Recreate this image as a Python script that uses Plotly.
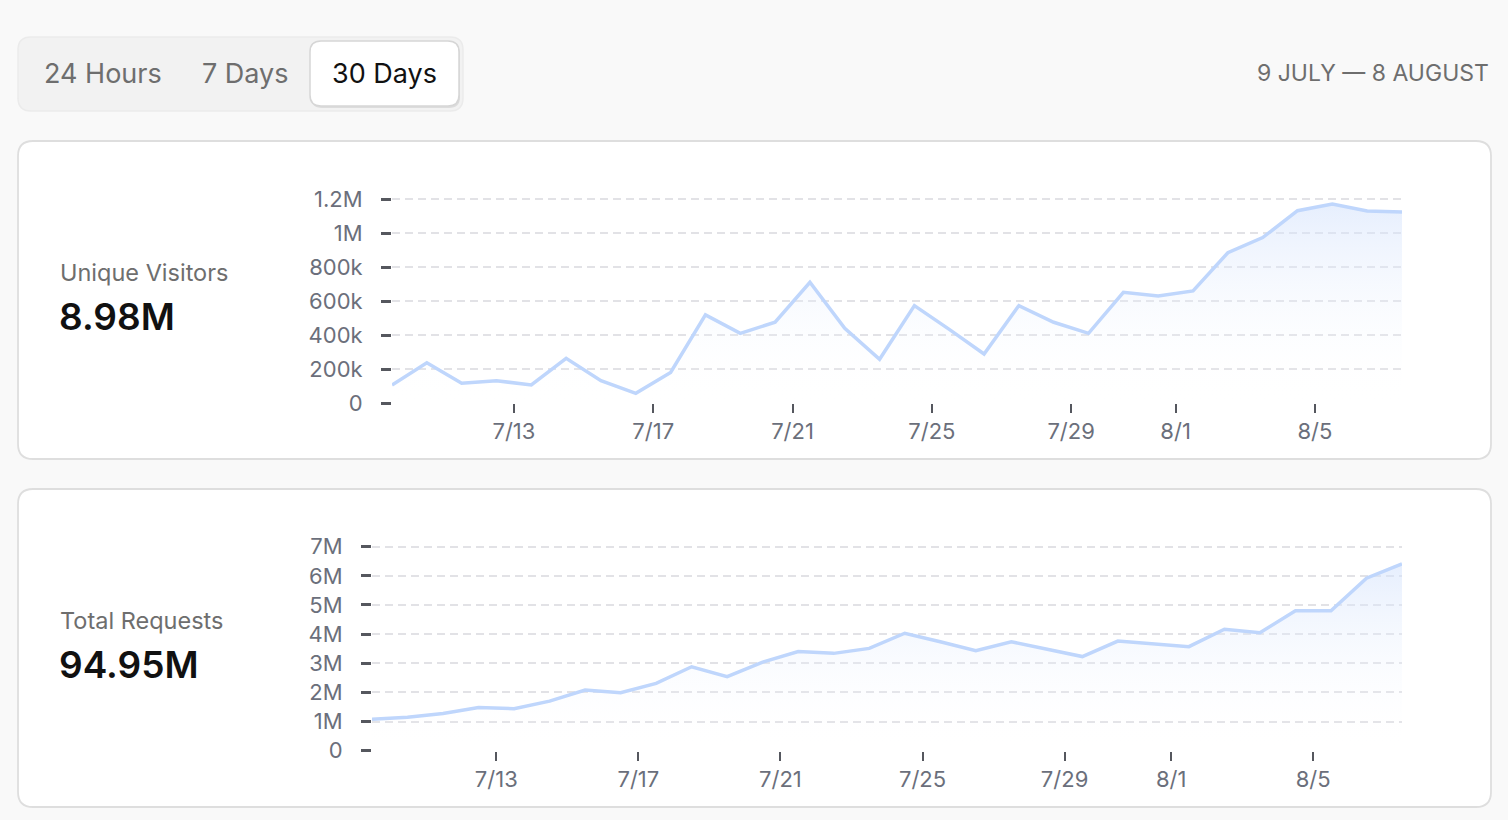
import plotly.graph_objects as go

# dimensões da página (px)
W, H = 1508, 820

# dados: um ponto por dia (carimbo ao meio-dia)
days = ["2024-07-09", "2024-07-10", "2024-07-11", "2024-07-12", "2024-07-13",
        "2024-07-14", "2024-07-15", "2024-07-16", "2024-07-17", "2024-07-18",
        "2024-07-19", "2024-07-20", "2024-07-21", "2024-07-22", "2024-07-23",
        "2024-07-24", "2024-07-25", "2024-07-26", "2024-07-27", "2024-07-28",
        "2024-07-29", "2024-07-30", "2024-07-31", "2024-08-01", "2024-08-02",
        "2024-08-03", "2024-08-04", "2024-08-05", "2024-08-06", "2024-08-07"]

visitors = [106e3, 237e3, 116e3, 131e3, 106e3, 263e3, 131e3, 57e3, 180e3, 518e3,
            410e3, 475e3, 710e3, 439e3, 257e3, 573e3, 433e3, 288e3, 573e3, 475e3,
            410e3, 651e3, 629e3, 659e3, 884e3, 973e3, 1131e3, 1171e3, 1129e3, 1124e3]

requests = [1.08e6, 1.15e6, 1.28e6, 1.48e6, 1.44e6, 1.70e6, 2.08e6, 1.99e6, 2.31e6, 2.88e6,
            2.54e6, 3.04e6, 3.40e6, 3.34e6, 3.51e6, 4.03e6, 3.74e6, 3.43e6, 3.74e6, 3.49e6,
            3.23e6, 3.76e6, 3.66e6, 3.57e6, 4.17e6, 4.05e6, 4.80e6, 4.80e6, 5.92e6, 6.41e6]

x_tick_dates = ["2024-07-13", "2024-07-17", "2024-07-21", "2024-07-25",
                "2024-07-29", "2024-08-01", "2024-08-05"]

visitors_ticks = [0, 200e3, 400e3, 600e3, 800e3, 1e6, 1.2e6]
visitors_tick_text = ["0", "200k", "400k", "600k", "800k", "1M", "1.2M"]
requests_ticks = [0, 1e6, 2e6, 3e6, 4e6, 5e6, 6e6, 7e6]
requests_tick_text = ["0", "1M", "2M", "3M", "4M", "5M", "6M", "7M"]

tabs = ["24 Hours", "7 Days", "30 Days"]
date_range_label = "9 JULY — 8 AUGUST"
metric_names = ["Unique Visitors", "Total Requests"]
metric_totals = ["8.98M", "94.95M"]

x = [d + " 12:00" for d in days]

FONT = "Inter, Noto Sans, sans-serif"
LINE_COLOR = "rgb(191,214,252)"
TICK_COLOR = "#6b6f7b"
GRID_COLOR = "#e2e2e6"


def px_x(v):
    return v / W


def px_y(v):
    return 1 - v / H


def rounded_rect(x0, y0, x1, y1, r):
    pts = [
        ("M", [(x0 + r, y0)]),
        ("L", [(x1 - r, y0)]),
        ("Q", [(x1, y0), (x1, y0 + r)]),
        ("L", [(x1, y1 - r)]),
        ("Q", [(x1, y1), (x1 - r, y1)]),
        ("L", [(x0 + r, y1)]),
        ("Q", [(x0, y1), (x0, y1 - r)]),
        ("L", [(x0, y0 + r)]),
        ("Q", [(x0, y0), (x0 + r, y0)]),
    ]
    out = ""
    for cmd, coords in pts:
        out += cmd + " ".join(f"{px_x(a):.5f},{px_y(b):.5f}" for a, b in coords) + " "
    return out + "Z"


fig = go.Figure()

for vals, xa, ya in [(visitors, "x", "y"), (requests, "x2", "y2")]:
    fig.add_trace(go.Scatter(
        x=x, y=vals, xaxis=xa, yaxis=ya,
        mode="lines",
        line=dict(color=LINE_COLOR, width=3.5),
        fill="tozeroy",
        fillgradient=dict(type="vertical",
                          colorscale=[[0, "rgba(255,255,255,0)"],
                                      [1, "rgba(210,225,252,0.55)"]]),
        hoverinfo="x+y",
        showlegend=False,
    ))

x_range = [x[0], x[-1]]

xaxis_common = dict(
    type="date", range=x_range, tickvals=x_tick_dates, tickformat="%-m/%-d",
    showgrid=False, zeroline=False, showline=False, automargin=False,
    ticks="outside", ticklen=9, tickwidth=2, tickcolor="#55575e",
    tickfont=dict(family=FONT, size=22, color=TICK_COLOR),
    fixedrange=True,
)
yaxis_common = dict(
    showgrid=True, gridcolor=GRID_COLOR, gridwidth=1.5, griddash="8px,5px",
    zeroline=False, showline=False, automargin=False,
    ticks="outside", ticklen=10, tickwidth=2.5, tickcolor="#55575e",
    ticklabelstandoff=14,
    tickfont=dict(family=FONT, size=22, color=TICK_COLOR),
    fixedrange=True,
)

# o topo do intervalo fica um pouco acima da última linha de grade para ela ser desenhada
top_pad1 = 0.01e6
top_pad2 = 0.06e6
fig.update_layout(
    xaxis=dict(xaxis_common, domain=[px_x(392), px_x(1402)], anchor="y"),
    yaxis=dict(yaxis_common, domain=[px_y(403), px_y(199 - 170e-6 * top_pad1)], anchor="x",
               range=[0, 1.2e6 + top_pad1], tickvals=visitors_ticks, ticktext=visitors_tick_text),
    xaxis2=dict(xaxis_common, domain=[px_x(372), px_x(1402)], anchor="y2"),
    yaxis2=dict(yaxis_common, domain=[px_y(750.7), px_y(546.7 - 29.14e-6 * top_pad2)], anchor="x2",
                range=[0, 7e6 + top_pad2], tickvals=requests_ticks, ticktext=requests_tick_text),
)

# cartões e seletor de período
shapes = [
    dict(type="path", path=rounded_rect(18, 37, 463, 111, 13),
         fillcolor="#f2f2f2", line=dict(color="#ebebeb", width=1.5)),
    dict(type="path", path=rounded_rect(311, 43, 460, 108, 11),
         fillcolor="#dcdcdc", line=dict(width=0)),
    dict(type="path", path=rounded_rect(310, 41, 459, 106, 11),
         fillcolor="#ffffff", line=dict(color="#d6d6d6", width=1.5)),
    dict(type="path", path=rounded_rect(18, 141, 1491, 459, 15),
         fillcolor="#ffffff", line=dict(color="#dedede", width=1.8)),
    dict(type="path", path=rounded_rect(18, 489, 1491, 807, 15),
         fillcolor="#ffffff", line=dict(color="#dedede", width=1.8)),
]
for s in shapes:
    s.update(xref="paper", yref="paper", layer="below")

annotations = []
tab_x = [42, 200, 330]
tab_colors = ["#6e6e6e", "#6e6e6e", "#111111"]
for label, tx, tc in zip(tabs, tab_x, tab_colors):
    annotations.append(dict(text=label, x=px_x(tx), y=px_y(74),
                            font=dict(family=FONT, size=27, color=tc)))
annotations.append(dict(text=date_range_label, x=px_x(1491), y=px_y(73), xanchor="right",
                        font=dict(family=FONT, size=23, color="#6e6e6e")))

for name, total, ny, ty in zip(metric_names, metric_totals, [272, 620], [316, 664]):
    annotations.append(dict(text=name, x=px_x(58), y=px_y(ny),
                            font=dict(family=FONT, size=23.5, color="#6e6e6e")))
    annotations.append(dict(text=total, x=px_x(57), y=px_y(ty),
                            font=dict(family=FONT, size=37, color="#111111", weight=600)))

for a in annotations:
    a.setdefault("xanchor", "left")
    a.update(xref="paper", yref="paper", yanchor="middle", showarrow=False)

fig.update_layout(
    width=W, height=H,
    margin=dict(l=0, r=0, t=0, b=0, autoexpand=False),
    paper_bgcolor="#f9f9f9",
    plot_bgcolor="rgba(0,0,0,0)",
    shapes=shapes,
    annotations=annotations,
    font=dict(family=FONT),
)

post = ("document.body.style.margin='0';"
        "var gd=document.getElementById('{plot_id}');"
        "gd.style.position='fixed';gd.style.left='0';gd.style.top='0';")

fig.write_html("out.html", config={"displayModeBar": False}, post_script=post)
